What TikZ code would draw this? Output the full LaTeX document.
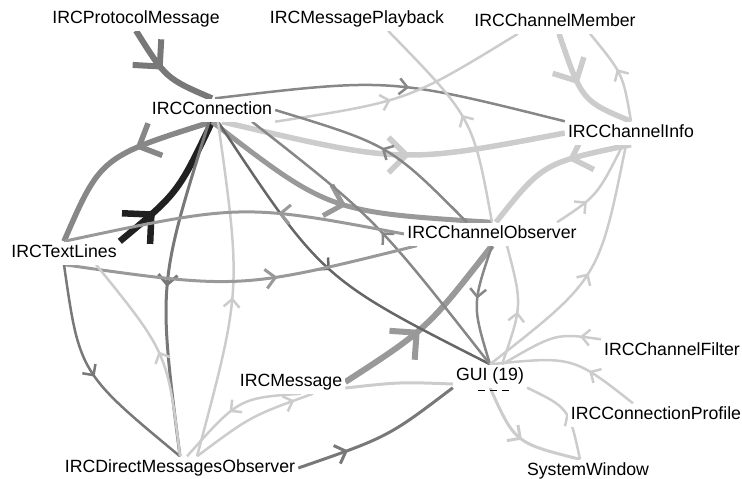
\documentclass[tikz,border=0pt]{standalone}
\usepackage{fontspec}
\setmainfont{Liberation Sans}
\usetikzlibrary{arrows.meta, decorations.markings, backgrounds}

\begin{document}
\begin{tikzpicture}[x=1pt,y=-1pt,
    lbl/.style={fill=white,inner sep=3pt,text height=13pt,text depth=4pt,font=\fontsize{17.7}{21}\selectfont},
    link/.style n args={3}{line width=#1,draw=#2,postaction={decorate,decoration={markings,
      mark=at position #3 with {\arrow{Straight Barb[length=0pt 3.2,width=0pt 6.4]}}}}}]
        \useasboundingbox (0,0) rectangle (742,479);

        \node[lbl] (n1) at (136,19) {IRCProtocolMessage};
        \node[lbl] (n2) at (357,19) {IRCMessagePlayback};
        \node[lbl] (n3) at (555,22) {IRCChannelMember};
        \node[lbl] (n4) at (212,110) {IRCConnection};
        \node[lbl] (n5) at (631,133) {IRCChannelInfo};
        \node[lbl] (n6) at (64,253) {IRCTextLines};
        \node[lbl] (n7) at (492,234) {IRCChannelObserver};
        \node[lbl] (n8) at (291,382) {IRCMessage};
        \node[lbl] (n9) at (490,376) {GUI (19)};
        \node[lbl] (n10) at (672,351) {IRCChannelFilter};
        \node[lbl] (n11) at (656,415) {IRCConnectionProfile};
        \node[lbl] (n12) at (588,471) {SystemWindow};
        \node[lbl] (n13) at (180,468) {IRCDirectMessagesObserver};

        \draw[dash pattern=on 7pt off 5pt,line width=1.3pt] ([xshift=-12pt,yshift=-3pt]n9.south) -- ([xshift=19pt,yshift=-3pt]n9.south);

        \begin{scope}[on background layer]
          % heavy links
          \draw[link={6pt}{black!53}{0.45}] (n1.south) .. controls (166,78.5) .. (n4.north);
          \draw[link={5.5pt}{black!47}{0.4}] (n4.south) .. controls (100.7,156.8) .. (n6.north);
          \draw[link={6.5pt}{black!87}{0.3}] (n6.north east) .. controls (178,192.8) .. (n4.south);
          \draw[link={5pt}{black!40}{0.52}] (n4.south) .. controls (329,212) .. (n7.north);
          \draw[link={5.5pt}{black!20}{0.55}] ([xshift=10pt]n4.south) .. controls (402,164) .. (n5.west);
          \draw[link={6pt}{black!40}{0.45}] (n8.east) .. controls (427,329) .. (n7.south);
          \draw[link={5.5pt}{black!20}{0.4}] (n5.south) .. controls (543,163) .. ([xshift=4pt]n7.north);
          \draw[link={5.5pt}{black!20}{0.45}] ([xshift=4pt]n3.south) .. controls (582,101) .. (n5.north);

          % light links
          \draw[link={2.5pt}{black!47}{0.55}] ([xshift=3pt]n4.north) .. controls (390,77.7) .. (n5.north west);
          \draw[link={2.5pt}{black!20}{0.45}] (n4.south east) .. controls (408,101) .. ([xshift=-37pt]n3.south);
          \draw[link={2.5pt}{black!47}{0.5}] ([xshift=-25pt]n7.north) .. controls (390,145) .. (n4.east);
          \draw[link={2.5pt}{black!60}{0.5}] ([xshift=6pt]n4.south) .. controls (322,279) .. (n9.north);
          \draw[link={2.5pt}{black!47}{0.5}] (n9.north) .. controls (376,219) .. ([xshift=40pt]n4.south);
          \draw[link={3pt}{black!53}{0.5}] ([xshift=-3pt]n4.south) .. controls (158,284) .. (n13.north);
          \draw[link={2.5pt}{black!20}{0.48}] ([xshift=17pt]n13.north) .. controls (241.5,290) .. ([xshift=6pt]n4.south);
          \draw[link={3pt}{black!40}{0.37}] (n7.west) .. controls (242,203.4) .. (n6.north);
          \draw[link={3pt}{black!40}{0.6}] (n6.south) .. controls (240,289.7) .. ([xshift=-75pt]n7.south);
          \draw[link={2.5pt}{black!53}{0.5}] (n6.south) .. controls (79.5,373) .. (n13.north);
          \draw[link={2.5pt}{black!20}{0.5}] (n13.north) .. controls (167.5,353) .. (n6.-20);
          \draw[link={2.5pt}{black!20}{0.55}] (n5.north) .. controls (623,74) .. ([xshift=35pt]n3.south);
          \draw[link={2.5pt}{black!20}{0.5}] (n7.north) .. controls (473,118) .. ([xshift=31pt]n2.south);
          \draw[link={2.5pt}{black!20}{0.45}] ([xshift=12pt]n9.north) .. controls (522.5,305) .. ([xshift=15pt]n7.south);
          \draw[link={2.5pt}{black!47}{0.45}] (n7.south) .. controls (472,305) .. (n9.north);
          \draw[link={2.5pt}{black!20}{0.35}] ([xshift=65pt]n7.north) .. controls (597,196) .. ([xshift=-8pt]n5.south);
          \draw[link={2.5pt}{black!20}{0.5}] (n9.north) .. controls (599,279) .. ([xshift=-5pt]n5.south);
          \draw[link={2.5pt}{black!20}{0.2}] (n10.north west) .. controls (556,333) .. ([xshift=12pt]n9.north);
          \draw[link={2.5pt}{black!20}{0.35}] ([xshift=-23pt]n11.north) .. controls (573,356) .. (n9.north);
          \draw[link={3pt}{black!20}{0.5}] (n9.south) .. controls (515,443) .. ([xshift=-8pt]n12.north);
          \draw[link={2.5pt}{black!20}{0.5}] ([xshift=-8pt]n12.north) .. controls (569,408) .. (n9.south east);
          \draw[line width=3pt,black!20] ([yshift=-6pt]n8.east) .. controls (400,382) .. ([yshift=-8pt]n9.west);
          \draw[link={3pt}{black!53}{0.3}] (n13.east) .. controls (388,437) .. (n9.south west);
          \draw[link={2.5pt}{black!20}{0.55}] ([xshift=10pt]n8.south) .. controls (239,398) .. ([xshift=7pt]n13.north);
          \draw[link={2.5pt}{black!20}{0.85}] ([xshift=17pt]n13.north) .. controls (251,416) .. ([xshift=22pt]n8.south);
        \end{scope}
      \end{tikzpicture}
\end{document}
